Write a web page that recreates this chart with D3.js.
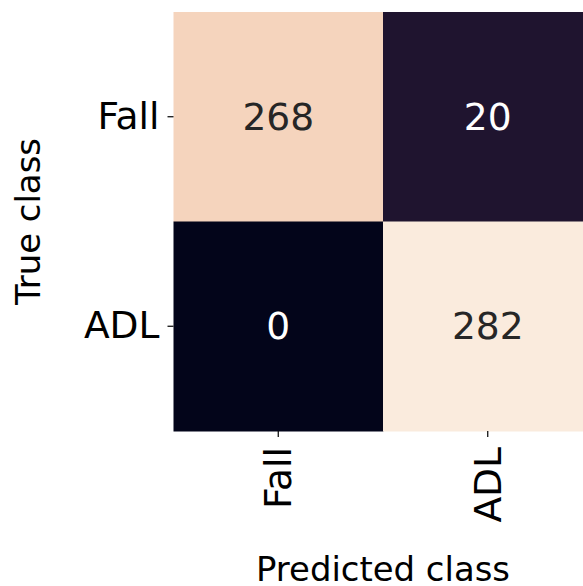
<!DOCTYPE html>
<html><head><meta charset="utf-8">
<script src="https://cdn.jsdelivr.net/npm/d3@7"></script>
<style>body{margin:0;background:#fff}svg{display:block}text{font-family:"DejaVu Sans",sans-serif}</style>
</head><body>
<svg id="c" width="583" height="586"></svg>
<script>
const trueClasses = ["Fall", "ADL"];
const predClasses = ["Fall", "ADL"];
const values = [[268, 20], [0, 282]];
const rocketStops = [0, 0.1, 0.2, 0.3, 0.4, 0.5, 0.6, 0.7, 0.8, 0.9, 0.95, 1];
const rocketColors = ["#03051a", "#2b1a38", "#4c1d4b", "#701f57", "#961c5b", "#cb1b4f", "#e13342", "#f06043", "#f4875e", "#f5b18b", "#f5d4bd", "#faebdd"];

const svg = d3.select("#c");
const x0 = 173.5, y0 = 12, cell = 209.5;
const x = d3.scaleBand().domain(predClasses).range([x0, x0 + cell * predClasses.length]);
const y = d3.scaleBand().domain(trueClasses).range([y0, y0 + cell * trueClasses.length]);
const flat = values.flat();
const vmin = d3.min(flat), vmax = d3.max(flat);
const norm = d3.scaleLinear().domain([vmin, vmax]).range([0, 1]);
const cmap = d3.scaleLinear().domain(rocketStops).range(rocketColors);
const color = v => cmap(norm(v));

const cells = [];
trueClasses.forEach((t, i) => predClasses.forEach((p, j) => cells.push({t, p, v: values[i][j]})));

svg.selectAll("rect.cell").data(cells).join("rect").attr("class", "cell")
  .attr("x", d => x(d.p)).attr("y", d => y(d.t))
  .attr("width", x.bandwidth() + 0.5).attr("height", y.bandwidth() + 0.5)
  .attr("fill", d => color(d.v));

const tickFs = 37.6, labFs = 33.9;
svg.selectAll("text.ann").data(cells).join("text").attr("class", "ann")
  .attr("x", d => x(d.p) + x.bandwidth() / 2).attr("y", d => y(d.t) + y.bandwidth() / 2)
  .attr("text-anchor", "middle").attr("dominant-baseline", "central")
  .attr("font-size", tickFs)
  .attr("fill", d => d3.hsl(color(d.v)).l > 0.5 ? "#262626" : "#ffffff")
  .text(d => d.v);

const yAxis = svg.append("g").attr("transform", `translate(${x0},0)`)
  .call(d3.axisLeft(y).tickSize(6).tickPadding(8));
yAxis.select(".domain").remove();
yAxis.selectAll("line").attr("stroke", "#000").attr("stroke-width", 1.2);
yAxis.selectAll("text").attr("font-size", tickFs).attr("fill", "#000").attr("font-family", "DejaVu Sans");

const xAxis = svg.append("g").attr("transform", `translate(0,${y0 + cell * 2})`)
  .call(d3.axisBottom(x).tickSize(6).tickPadding(7));
xAxis.select(".domain").remove();
xAxis.selectAll("line").attr("stroke", "#000").attr("stroke-width", 1.2);
xAxis.selectAll("text").attr("font-size", tickFs).attr("fill", "#000").attr("font-family", "DejaVu Sans")
  .attr("transform", "rotate(-90)").attr("text-anchor", "end").attr("dy", "0.35em")
  .attr("x", -16).attr("y", 0);

svg.append("text").attr("transform", `translate(40,${y0 + cell}) rotate(-90)`)
  .attr("text-anchor", "middle").attr("font-size", labFs).attr("fill", "#000").text("True class");
svg.append("text").attr("x", x0 + cell).attr("y", 581)
  .attr("text-anchor", "middle").attr("font-size", labFs).attr("fill", "#000").text("Predicted class");
</script>
</body></html>
